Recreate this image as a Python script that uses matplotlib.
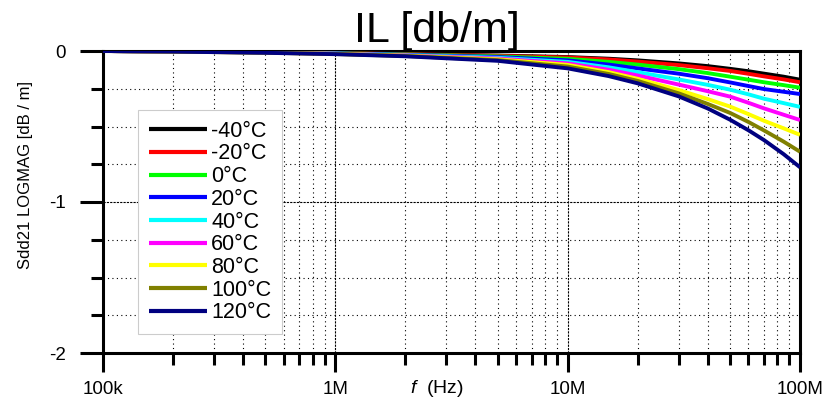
import numpy as np
import matplotlib
matplotlib.use("Agg")
from matplotlib import pyplot as plt
from matplotlib.ticker import FixedLocator, NullFormatter

plt.rcParams['font.family'] = ['Liberation Sans', 'DejaVu Sans']
plt.rcParams['axes.unicode_minus'] = False
plt.rcParams['mathtext.fontset'] = 'custom'
plt.rcParams['mathtext.it'] = 'Liberation Sans:italic'
plt.rcParams['mathtext.rm'] = 'Liberation Sans'

# frequency points (Hz)
freq = [1e5, 2e5, 5e5, 1e6, 2e6, 5e6, 1e7, 1.5e7, 2e7, 3e7, 4e7, 5e7, 6e7, 7e7, 8.5e7, 1e8]

temps = ['-40°C', '-20°C', '0°C', '20°C', '40°C', '60°C', '80°C', '100°C', '120°C']
colors = ['#000000', '#ff0000', '#00ff00', '#0000ff', '#00ffff',
          '#ff00ff', '#ffff00', '#808000', '#000080']

il_m40 = [0, -0.003, -0.008, -0.013, -0.020, -0.030, -0.040, -0.051, -0.062, -0.082, -0.100, -0.118, -0.134, -0.150, -0.170, -0.190]
il_m20 = [0, -0.003, -0.008, -0.014, -0.021, -0.032, -0.043, -0.056, -0.070, -0.093, -0.114, -0.132, -0.151, -0.168, -0.188, -0.207]
il_0   = [0, -0.003, -0.009, -0.015, -0.023, -0.036, -0.052, -0.072, -0.090, -0.120, -0.146, -0.170, -0.190, -0.207, -0.226, -0.243]
il_20  = [0, -0.003, -0.009, -0.016, -0.025, -0.040, -0.062, -0.090, -0.115, -0.150, -0.180, -0.208, -0.232, -0.252, -0.270, -0.285]
il_40  = [0, -0.003, -0.010, -0.017, -0.027, -0.045, -0.072, -0.108, -0.140, -0.188, -0.224, -0.256, -0.287, -0.316, -0.345, -0.370]
il_60  = [0, -0.004, -0.010, -0.018, -0.029, -0.050, -0.082, -0.124, -0.162, -0.222, -0.266, -0.302, -0.343, -0.380, -0.422, -0.457]
il_80  = [0, -0.004, -0.011, -0.019, -0.031, -0.055, -0.092, -0.140, -0.184, -0.258, -0.318, -0.368, -0.418, -0.462, -0.512, -0.555]
il_100 = [0, -0.004, -0.011, -0.020, -0.033, -0.060, -0.103, -0.152, -0.198, -0.280, -0.350, -0.410, -0.470, -0.526, -0.600, -0.667]
il_120 = [0, -0.004, -0.012, -0.021, -0.035, -0.065, -0.115, -0.166, -0.214, -0.300, -0.380, -0.455, -0.525, -0.590, -0.683, -0.770]
series = [il_m40, il_m20, il_0, il_20, il_40, il_60, il_80, il_100, il_120]

xticks = [1e5, 1e6, 1e7, 1e8]
xticklabels = ['100k', '1M', '10M', '100M']
yticks = [0, -1, -2]

fig = plt.figure(figsize=(8.31, 4.0), dpi=100)
ax = fig.add_axes([103 / 831, 47 / 400, 697 / 831, 302 / 400])

for vals, c, t in zip(series, colors, temps):
    ax.plot(freq, vals, color=c, lw=2.8, label=t, solid_capstyle='butt',
            solid_joinstyle='round', zorder=3)

ax.set_xscale('log')
ax.set_xlim(1e5, 1e8)
ax.set_ylim(-2, 0)

ax.xaxis.set_major_locator(FixedLocator(xticks))
ax.set_xticklabels(xticklabels)
ax.xaxis.set_minor_locator(FixedLocator(
    [m * d for d in (1e5, 1e6, 1e7) for m in range(2, 10)]))
ax.xaxis.set_minor_formatter(NullFormatter())
ax.set_yticks(yticks)
ax.set_yticklabels([str(v) for v in yticks])
ax.yaxis.set_minor_locator(FixedLocator(np.arange(-2, 0.01, 0.25)))

ax.tick_params(which='major', axis='y', length=16.5, width=2.2, labelsize=13.5, pad=10)
ax.tick_params(which='minor', axis='y', length=8.5, width=2.2)
ax.tick_params(which='major', axis='x', length=14, width=2.2, labelsize=13.5, pad=6)
ax.tick_params(which='minor', axis='x', length=8.5, width=2.2)
ax.tick_params(top=False, right=False, which='both')

ax.grid(which='minor', color='black', lw=0.8, ls=(0, (1, 3)), zorder=1)
ax.grid(which='major', color='black', lw=0.8, ls=(0, (2, 1)), zorder=1)

for s in ax.spines.values():
    s.set_linewidth(2.2)

ax.set_ylabel('Sdd21 LOGMAG [dB / m]', fontsize=12)
ax.yaxis.set_label_coords(-0.100, 0.589)
ax.set_xlabel(r'$f$  (Hz)', fontsize=14)
ax.xaxis.set_label_coords(0.479, -0.082)

fig.text(437 / 831, 358 / 400, 'IL [db/m]', fontsize=31, ha='center', va='baseline')

leg = ax.legend(loc='upper left', bbox_to_anchor=(0.050, 0.805), borderaxespad=0,
                fontsize=15.5, handlelength=2.7, handletextpad=0.2, labelspacing=0.08,
                borderpad=0.5, fancybox=False, framealpha=1, edgecolor='#cccccc')
leg.get_frame().set_linewidth(0.8)
for h in leg.get_lines():
    h.set_linewidth(3)

fig.savefig('out.png', dpi=100)
